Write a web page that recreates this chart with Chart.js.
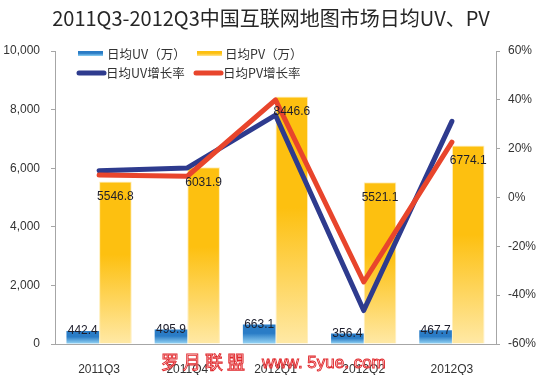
<!DOCTYPE html>
<html>
<head>
<meta charset="utf-8">
<script src="https://cdn.jsdelivr.net/npm/chart.js@4.4.1/dist/chart.umd.min.js"></script>
<style>
  html, body { margin: 0; padding: 0; background: #fff; }
  #wrap { width: 542px; height: 375px; }
</style>
</head>
<body>
<div id="wrap"><canvas id="c"></canvas></div>
<script>
const TITLE = '2011Q3-2012Q3中国互联网地图市场日均UV、PV';
const quarters = ['2011Q3', '2011Q4', '2012Q1', '2012Q2', '2012Q3'];
const uvDaily = [442.4, 495.9, 663.1, 356.4, 467.7];
const pvDaily = [5546.8, 6031.9, 8446.6, 5521.1, 6774.1];
const uvGrowth = [11.0, 12.1, 33.7, -46.3, 31.2];
const pvGrowth = [9.2, 8.7, 40.0, -34.6, 22.7];
const leftTicks = [0, 2000, 4000, 6000, 8000, 10000];
const rightTicks = [-60, -40, -20, 0, 20, 40, 60];

const CJK = '"Noto Sans CJK SC", "Noto Sans", sans-serif';
const LAT = '"Liberation Sans", Arial, sans-serif';

// vertical gradient for one bar, top colour to bottom colour
function barGradient(ctx, top, bottom, cTop, cBottom) {
  const g = ctx.createLinearGradient(0, top, 0, bottom);
  g.addColorStop(0, cTop);
  g.addColorStop(0.45, cTop);
  g.addColorStop(1, cBottom);
  return g;
}

function barFill(cTop, cBottom) {
  return (c) => {
    const chart = c.chart;
    const y = chart.scales.y;
    if (!chart.chartArea || c.parsed == null || !y) return cTop;
    const top = y.getPixelForValue(c.parsed.y);
    return barGradient(chart.ctx, top, y.getPixelForValue(0), cTop, cBottom);
  };
}

const overlay = {
  id: 'overlay',
  afterDatasetsDraw(chart) {
    const ctx = chart.ctx;
    ctx.save();
    ctx.font = '12px ' + LAT;
    ctx.fillStyle = '#1d1d2b';
    ctx.textAlign = 'center';
    ctx.textBaseline = 'middle';
    const uvMeta = chart.getDatasetMeta(2);
    uvMeta.data.forEach((bar, i) => {
      ctx.fillText(uvDaily[i].toFixed(1), bar.x, bar.y);
    });
    const pvMeta = chart.getDatasetMeta(3);
    pvMeta.data.forEach((bar, i) => {
      ctx.fillText(pvDaily[i].toFixed(1), bar.x, bar.y + 15);
    });
    ctx.restore();
  },
  afterDraw(chart) {
    const ctx = chart.ctx;
    ctx.save();
    // title
    ctx.font = '20px ' + CJK;
    ctx.fillStyle = '#262626';
    ctx.textAlign = 'center';
    ctx.textBaseline = 'middle';
    ctx.fillText(TITLE, 271, 18);

    // legend, two rows inside the plot
    ctx.font = '12.5px ' + CJK;
    ctx.textAlign = 'left';
    ctx.fillStyle = barGradient(ctx, 51, 56, '#2a7cc6', '#8fd3f4');
    ctx.fillRect(78, 51, 25, 5);
    ctx.fillStyle = barGradient(ctx, 51, 56, '#fdc010', '#ffe590');
    ctx.fillRect(197, 51, 25, 5);
    ctx.lineCap = 'round';
    ctx.lineWidth = 5;
    ctx.strokeStyle = '#2e3b8e';
    ctx.beginPath(); ctx.moveTo(79, 73); ctx.lineTo(104, 73); ctx.stroke();
    ctx.strokeStyle = '#e8452c';
    ctx.beginPath(); ctx.moveTo(196, 73); ctx.lineTo(221, 73); ctx.stroke();
    ctx.fillStyle = '#333';
    ctx.fillText('日均UV（万）', 107, 54);
    ctx.fillText('日均PV（万）', 225, 54);
    ctx.fillText('日均UV增长率', 106, 73);
    ctx.fillText('日均PV增长率', 223, 73);

    // watermark, hollow red lettering
    ctx.font = '18px ' + CJK;
    ctx.lineWidth = 0.9;
    ctx.strokeStyle = '#e0262a';
    ctx.fillStyle = 'rgba(255,255,255,0.6)';
    ctx.textBaseline = 'middle';
    ['罗', '月', '联', '盟'].forEach((ch, i) => {
      ctx.fillText(ch, 161 + i * 22, 362);
      ctx.strokeText(ch, 161 + i * 22, 362);
    });
    ctx.font = '17px ' + LAT;
    ctx.fillText('www. 5yue. com', 262, 363);
    ctx.strokeText('www. 5yue. com', 262, 363);
    ctx.restore();
  }
};

new Chart(document.getElementById('c'), {
  data: {
    labels: quarters,
    datasets: [
      {
        type: 'line', label: '日均PV增长率', data: pvGrowth, yAxisID: 'y1',
        borderColor: '#e8452c', borderWidth: 5, pointRadius: 0,
        borderCapStyle: 'round', borderJoinStyle: 'round', tension: 0, order: 0
      },
      {
        type: 'line', label: '日均UV增长率', data: uvGrowth, yAxisID: 'y1',
        borderColor: '#2e3b8e', borderWidth: 5, pointRadius: 0,
        borderCapStyle: 'round', borderJoinStyle: 'round', tension: 0, order: 1
      },
      {
        type: 'bar', label: '日均UV（万）', data: uvDaily, yAxisID: 'y',
        backgroundColor: barFill('#2a7cc6', '#9ad8f6'),
        categoryPercentage: 0.74, barPercentage: 1, order: 2
      },
      {
        type: 'bar', label: '日均PV（万）', data: pvDaily, yAxisID: 'y',
        backgroundColor: barFill('#fdc010', '#ffe9a6'),
        borderColor: 'rgba(255,236,180,0.9)', borderWidth: 1,
        categoryPercentage: 0.74, barPercentage: 1, order: 3
      }
    ]
  },
  options: {
    responsive: true,
    maintainAspectRatio: false,
    animation: false,
    layout: { padding: { top: 51, left: 0, right: 0, bottom: 0 } },
    plugins: {
      legend: { display: false },
      title: { display: false },
      tooltip: { enabled: false }
    },
    scales: {
      x: {
        grid: { display: false },
        border: { display: true, color: '#a6a6a6' },
        ticks: { color: '#333', font: { size: 12, family: LAT }, padding: 10 },
        afterFit: (s) => { s.height = 31; }
      },
      y: {
        position: 'left', min: 0, max: 10000,
        grid: { drawOnChartArea: false, drawTicks: true, tickLength: 4, color: '#a6a6a6' },
        border: { display: true, color: '#a6a6a6' },
        afterBuildTicks: (s) => { s.ticks = leftTicks.map((v) => ({ value: v })); },
        ticks: {
          color: '#333', font: { size: 12, family: LAT }, padding: 11,
          callback: (v) => Number(v).toLocaleString('en-US')
        },
        afterFit: (s) => { s.width = 55; }
      },
      y1: {
        position: 'right', min: -60, max: 60,
        grid: { drawOnChartArea: false, drawTicks: true, tickLength: 4, color: '#a6a6a6' },
        border: { display: true, color: '#a6a6a6' },
        afterBuildTicks: (s) => { s.ticks = rightTicks.map((v) => ({ value: v })); },
        ticks: {
          color: '#333', font: { size: 12, family: LAT }, padding: 8,
          callback: (v) => v + '%'
        },
        afterFit: (s) => { s.width = 46; }
      }
    }
  },
  plugins: [overlay]
});
</script>
</body>
</html>
